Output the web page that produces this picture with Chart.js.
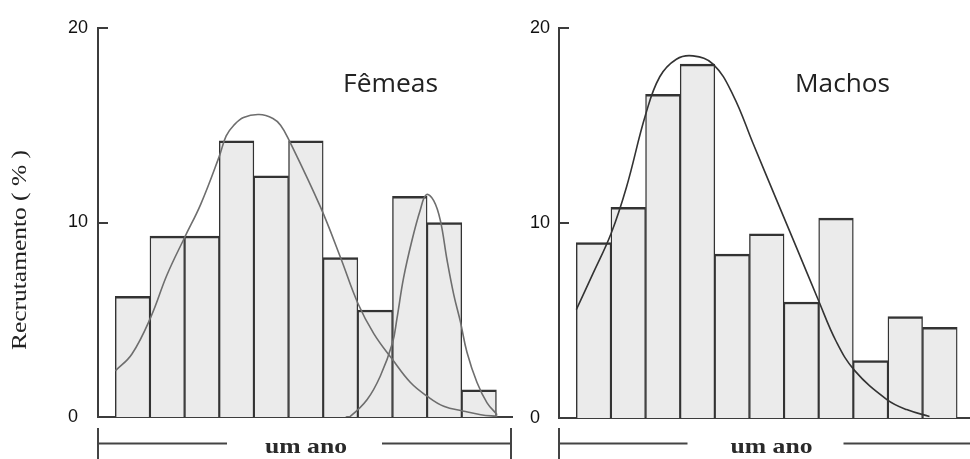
<!DOCTYPE html>
<html><head><meta charset="utf-8">
<script src="https://cdn.jsdelivr.net/npm/chart.js@4.4.1/dist/chart.umd.min.js"></script>
<style>
html,body{margin:0;padding:0;background:#fff;width:970px;height:459px;overflow:hidden;}
canvas{position:absolute;top:0;}
#cF{left:0;} #cM{left:520px;}
</style></head><body>
<canvas id="cF" width="520" height="459"></canvas>
<canvas id="cM" width="450" height="459"></canvas>
<script>
// ---- data ----
const classes = [1, 2, 3, 4, 5, 6, 7, 8, 9, 10, 11];
const femeasPct = [6.2, 9.3, 9.3, 14.2, 12.4, 14.2, 8.2, 5.5, 11.35, 10.0, 1.4];
const machosPct = [9.0, 10.8, 16.6, 18.15, 8.4, 9.45, 5.95, 10.25, 2.95, 5.2, 4.65];

const femeasCurveAX = [0.5, 0.98, 1.53, 1.99, 2.5, 2.97, 3.5, 3.7, 3.92, 4.2, 4.65, 5.05, 5.27, 5.51, 6.42, 7.0, 7.5, 7.96, 8.49, 9.02, 9.5, 9.98, 10.56, 11.05, 11.53];
const femeasCurveAY = [2.37, 3.24, 5.16, 7.3, 9.23, 10.96, 13.4, 14.45, 15.0, 15.4, 15.55, 15.35, 15.0, 14.25, 10.8, 8.2, 5.85, 4.29, 2.98, 1.77, 1.07, 0.55, 0.3, 0.12, 0.03];

const femeasCurveBX = [7.15, 7.28, 7.77, 8.15, 8.5, 8.63, 8.82, 9.06, 9.3, 9.48, 9.69, 9.88, 10.08, 10.27, 10.46, 10.65, 10.94, 11.23, 11.52];
const femeasCurveBY = [0, 0.03, 0.9, 2.11, 3.8, 5.07, 7.15, 9.06, 10.63, 11.43, 11.13, 10.12, 8.02, 6.28, 4.9, 3.33, 1.77, 0.73, 0.12];

const machosCurveX = [0.5, 0.98, 1.51, 1.95, 2.5, 2.91, 3.39, 3.87, 4.45, 5.03, 5.6, 6.28, 6.86, 7.48, 8.01, 8.54, 9.46, 10.04, 10.7];
const machosCurveY = [5.56, 7.4, 9.49, 11.85, 15.55, 17.5, 18.4, 18.57, 18.15, 16.55, 14.1, 11.2, 8.74, 6.09, 3.91, 2.43, 0.96, 0.43, 0.08];

const yTicks = [0, 10, 20];
const panelTitles = ['Fêmeas', 'Machos'];
const periodLabel = 'um ano';
const yAxisTitle = 'Recrutamento ( % )';

// ---- drawing ----
function drawStretched(ctx, text, x, y, width, font, color, align, baseline) {
  ctx.save();
  ctx.font = font;
  ctx.fillStyle = color;
  ctx.textBaseline = baseline || 'alphabetic';
  ctx.textAlign = align;
  const w = ctx.measureText(text).width;
  ctx.translate(x, y);
  ctx.scale(width / w, 1);
  ctx.fillText(text, 0, 0);
  ctx.restore();
}

const decor = {
  id: 'decor',
  afterDraw(chart, args, o) {
    const ctx = chart.ctx, ca = chart.chartArea, ys = chart.scales.y;
    ctx.save();
    ctx.strokeStyle = '#3c3c3c';
    ctx.lineWidth = 2;
    yTicks.forEach(v => {
      if (v > 0) {
        const py = Math.round(ys.getPixelForValue(v));
        ctx.beginPath(); ctx.moveTo(ca.left - 1, py); ctx.lineTo(ca.left + 10, py); ctx.stroke();
      }
    });
    drawStretched(ctx, o.title, o.titleX, 92, 95, '25px "Open Sans"', '#222', 'left');
    if (o.yTitle) {
      ctx.save();
      ctx.translate(21, 250);
      ctx.rotate(-Math.PI / 2);
      drawStretched(ctx, yAxisTitle, 0, 0, 200, '20px "Liberation Serif"', '#222', 'center', 'middle');
      ctx.restore();
    }
    const by = 443.5, cx = o.textCenter;
    ctx.strokeStyle = '#444';
    ctx.lineWidth = 2;
    ctx.beginPath();
    ctx.moveTo(ca.left, by); ctx.lineTo(cx - o.gapL, by);
    ctx.moveTo(cx + o.gapR, by); ctx.lineTo(o.lineEnd, by);
    ctx.moveTo(ca.left, 428); ctx.lineTo(ca.left, 459);
    if (o.rightTick) { ctx.moveTo(o.lineEnd - 1, 428); ctx.lineTo(o.lineEnd - 1, 459); }
    ctx.stroke();
    drawStretched(ctx, periodLabel, cx, 453, 82, 'bold 22px "Liberation Serif"', '#2a2a2a', 'center');
    ctx.restore();
  }
};

Chart.defaults.font.family = '"Liberation Sans", Arial, sans-serif';

function makeChart(id, pct, curves, o) {
  const datasets = curves.map(c => ({
    type: 'line',
    data: c.x.map((x, i) => ({ x: x, y: c.y[i] })),
    borderColor: c.color,
    borderWidth: 1.6,
    pointRadius: 0,
    tension: 0.4,
    fill: false,
    order: 0
  }));
  datasets.push({
    type: 'bar',
    data: classes.map((c, i) => ({ x: c, y: pct[i] })),
    backgroundColor: '#ebebeb',
    borderColor: '#333',
    borderWidth: { top: 2.5, left: 1.4, right: 1.4, bottom: 0 },
    borderSkipped: false,
    barPercentage: 1,
    categoryPercentage: 1,
    order: 1
  });
  return new Chart(document.getElementById(id), {
    type: 'bar',
    data: { datasets },
    options: {
      responsive: false,
      animation: false,
      events: [],
      layout: { padding: { left: o.padLeft, right: o.padRight, top: 28, bottom: 0 } },
      plugins: {
        legend: { display: false },
        tooltip: { enabled: false },
        decor: o.decor
      },
      scales: {
        x: {
          type: 'linear', min: 0, max: o.xMax, offset: false,
          grid: { display: false },
          border: { display: true, color: '#3c3c3c', width: 2 },
          ticks: { display: false },
          afterFit(s) { s.height = o.bottomH; }
        },
        y: {
          type: 'linear', min: 0, max: 20,
          afterBuildTicks(s) { s.ticks = yTicks.map(v => ({ value: v })); },
          grid: { display: false, drawTicks: false },
          border: { display: true, color: '#3c3c3c', width: 2 },
          ticks: { crossAlign: 'far', padding: 0, color: '#111', font: { size: 18 } },
          afterFit(s) { s.width = o.yW; }
        }
      }
    },
    plugins: [decor]
  });
}

makeChart('cF', femeasPct, [
  { x: femeasCurveAX, y: femeasCurveAY, color: '#6e6e6e' },
  { x: femeasCurveBX, y: femeasCurveBY, color: '#6e6e6e' }
], {
  padLeft: 68, yW: 30, padRight: 8, xMax: 11.95, bottomH: 42,
  decor: { title: panelTitles[0], titleX: 343, yTitle: true, textCenter: 306, gapL: 79, gapR: 76, lineEnd: 512, rightTick: true }
});

makeChart('cM', machosPct, [
  { x: machosCurveX, y: machosCurveY, color: '#333' }
], {
  padLeft: 10, yW: 29, padRight: 0, xMax: 11.87, bottomH: 41,
  decor: { title: panelTitles[1], titleX: 275, yTitle: false, textCenter: 251.5, gapL: 84, gapR: 72, lineEnd: 450, rightTick: false }
});
</script>
</body></html>
